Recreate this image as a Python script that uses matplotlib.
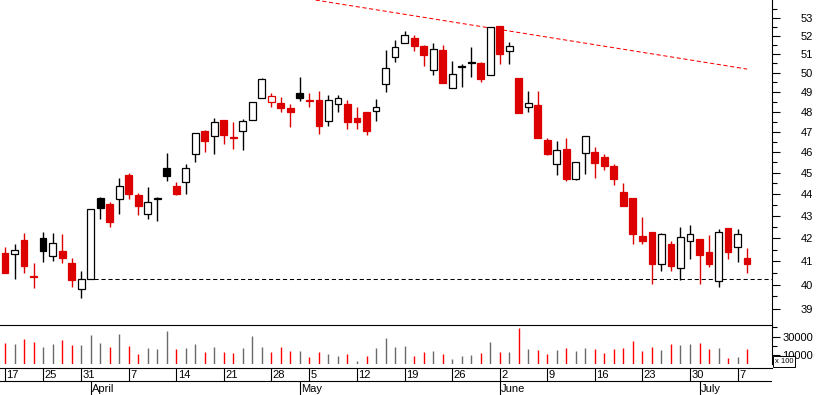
import numpy as np
import matplotlib.pyplot as plt
from matplotlib.patches import Rectangle
from matplotlib.ticker import FixedLocator, FixedFormatter, NullFormatter

plt.rcParams['font.family'] = ['Liberation Sans', 'DejaVu Sans']

# daily candles, index 0 = 17 March
opens = [41.37, 41.30, 41.93, 40.37, 42.01, 41.21, 41.44, 40.92, 39.80, 40.23,
         43.81, 43.55, 43.76, 44.90, 43.94, 43.07, 43.76, 45.22, 44.38, 44.55,
         45.89, 47.03, 46.76, 47.58, 46.73, 47.01, 47.58, 48.69, 48.47, 48.44,
         48.18, 48.95, 48.59, 48.59, 47.51, 48.37, 48.39, 47.68, 47.98, 48.02,
         49.39, 50.86, 51.58, 51.87, 51.43, 50.16, 51.22, 49.19, 50.29, 50.56,
         50.52, 49.87, 52.53, 51.15, 49.73, 48.22, 48.33, 46.58, 45.41, 46.14,
         44.69, 45.93, 46.00, 45.76, 45.32, 44.10, 43.82, 42.12, 42.28, 40.86,
         41.75, 40.69, 41.87, 41.97, 41.40, 40.15, 42.46, 41.61, 41.13]
highs = [41.63, 41.75, 42.22, 40.91, 42.28, 42.22, 42.19, 41.13, 40.58, 43.30,
         43.85, 43.64, 44.74, 45.00, 44.05, 44.33, 43.87, 45.95, 44.57, 45.42,
         46.91, 47.09, 47.66, 47.58, 47.48, 47.61, 48.47, 49.71, 48.95, 48.74,
         48.39, 49.78, 48.95, 49.05, 48.85, 48.85, 48.59, 48.23, 47.98, 48.64,
         51.21, 51.75, 52.25, 52.02, 51.49, 51.60, 51.49, 50.63, 50.45, 51.38,
         50.59, 52.46, 52.53, 51.64, 49.73, 49.05, 49.05, 46.67, 46.53, 46.68,
         45.50, 46.76, 46.24, 45.90, 45.42, 44.52, 43.82, 42.96, 42.28, 42.22,
         41.87, 42.50, 42.59, 41.97, 42.15, 42.42, 42.46, 42.42, 41.57]
lows = [40.51, 40.23, 40.51, 39.87, 40.97, 41.02, 40.93, 39.91, 39.45, 40.23,
        42.88, 42.52, 43.10, 43.79, 43.04, 42.88, 42.79, 44.63, 43.97, 44.02,
        45.53, 46.01, 45.91, 46.40, 46.16, 46.11, 47.58, 48.69, 48.25, 47.99,
        47.24, 48.56, 48.25, 46.89, 47.29, 47.99, 47.14, 47.14, 46.84, 47.54,
        49.02, 50.58, 51.58, 51.18, 50.38, 49.89, 49.48, 49.19, 49.28, 49.80,
        49.53, 49.87, 50.49, 50.49, 47.94, 47.99, 46.70, 45.87, 44.91, 44.63,
        44.65, 44.93, 44.77, 45.15, 44.44, 43.47, 41.76, 41.76, 40.04, 40.59,
        40.59, 40.18, 41.11, 40.04, 40.76, 39.91, 41.11, 40.97, 40.51]
closes = [40.51, 41.49, 40.80, 40.31, 41.46, 41.78, 41.15, 40.21, 40.23, 43.30,
          43.38, 42.74, 44.37, 44.02, 43.47, 43.62, 43.83, 44.86, 44.02, 45.22,
          46.91, 46.55, 47.46, 46.84, 46.70, 47.51, 48.47, 49.66, 48.78, 48.20,
          47.99, 48.71, 48.56, 47.29, 48.58, 48.68, 47.49, 47.49, 47.04, 48.22,
          50.23, 51.37, 52.02, 51.45, 50.96, 51.26, 49.48, 49.92, 50.38, 50.50,
          49.69, 52.46, 51.02, 51.42, 47.94, 48.42, 46.70, 45.91, 46.08, 44.72,
          45.50, 46.76, 45.45, 45.34, 44.72, 43.47, 42.21, 41.89, 40.89, 42.18,
          40.80, 42.04, 42.18, 41.28, 40.89, 42.27, 41.41, 42.18, 40.89]
# r = red filled, w = hollow black, k = black filled, o = hollow red
candle_styles = list("rwrrkwrrww" "krwrrwwkrw" "wrwrrwwwor" "rkrrwwrrrw"
                     "wwwrrwrwwk" "rwrwrwrrwr" "wwrrrrrrrw" "rwwrrwrwr")

volumes = [23300, 21900, 27300, 24000, 18900, 21900, 26200, 21100, 20800, 31700,
           23000, 18900, 32800, 20000, 11300, 17500, 16000, 36100, 16400, 17500,
           21900, 13100, 18600, 13100, 12000, 17500, 31000, 18600, 13100, 18900,
           14200, 14200, 7650, 13100, 10900, 9100, 10900, 3300, 8700, 17500,
           28400, 19000, 19700, 9100, 13100, 14200, 10900, 5500, 8700, 9800,
           12000, 24000, 13100, 13100, 39300, 16400, 15300, 10900, 15300, 17500,
           14200, 17500, 16400, 12000, 16400, 17500, 25100, 14200, 18600, 15300,
           21900, 20800, 21900, 23000, 16400, 17500, 6600, 7700, 16400]
# r = red bar, g = grey bar
volume_colors = list("rgrrggrrgg" "grgrrgggrg" "grgrrgggrr" "rgrrggrgrg"
                     "gggrrgrggg" "rgrgrgrrgr" "ggrrrrrrrg" "rggrrgrgr")

tick_idx = [0, 4, 8, 13, 18, 23, 28, 32, 37, 42, 47, 52, 57, 62, 67, 72, 77]
tick_lbl = ['17', '25', '31', '7', '14', '21', '28', '5', '12', '19', '26',
            '2', '9', '16', '23', '30', '7']
month_idx = [9, 31, 52, 73]
month_lbl = ['April', 'May', 'June', 'July']

price_ticks = list(range(39, 54))
half_ticks = [p + 0.5 for p in range(39, 54)]
support_level = 40.23
support_start = 9.4
trend_x = [28, 78]
trend_y = [54.39, 50.20]

RED = '#dd0000'
W, H = 817, 395
fig = plt.figure(figsize=(W / 100, H / 100), dpi=100)


def px_axes(x0, y0, x1, y1):
    return fig.add_axes([x0 / W, 1 - y1 / H, (x1 - x0) / W, (y1 - y0) / H])


ax = px_axes(0, 0, 772, 325)
axv = px_axes(0, 325, 772, 364)
axd = px_axes(0, 367.7, 772, 395)
xlim = (-0.525, 80.62)

# candles
for i in range(len(opens)):
    s = candle_styles[i]
    if s == 'r':
        fc, ec = RED, RED
    elif s == 'k':
        fc, ec = 'black', 'black'
    elif s == 'o':
        fc, ec = 'white', RED
    else:
        fc, ec = 'white', 'black'
    ax.vlines(i, lows[i], highs[i], color=ec, lw=1.0, zorder=2)
    lo = min(opens[i], closes[i])
    h = max(abs(closes[i] - opens[i]), 0.03)
    ax.add_patch(Rectangle((i - 0.36, lo), 0.72, h, facecolor=fc, edgecolor=ec,
                           lw=0.9, zorder=3))

ax.plot([support_start, xlim[1]], [support_level, support_level], color='black',
        lw=0.75, dashes=(4, 2.7), zorder=1)
ax.plot(trend_x, trend_y, color='#ff0000', lw=0.75, dashes=(4, 2.5), zorder=1)

ax.set_yscale('log')
ax.set_xlim(*xlim)
ax.set_ylim(38.33, 53.99)
ax.set_xticks([])
ax.yaxis.set_major_locator(FixedLocator(price_ticks))
ax.yaxis.set_major_formatter(FixedFormatter([str(p) for p in price_ticks]))
ax.yaxis.set_minor_locator(FixedLocator(half_ticks))
ax.yaxis.set_minor_formatter(NullFormatter())
for s in ['left', 'top']:
    ax.spines[s].set_visible(False)
ax.spines['right'].set_linewidth(0.8)
ax.spines['bottom'].set_linewidth(0.8)
ax.tick_params(axis='y', which='both', left=False, labelleft=False, right=True,
               labelright=True, direction='out', width=0.8)
ax.tick_params(axis='y', which='major', length=6, labelsize=8, pad=23.5)
ax.tick_params(axis='y', which='minor', length=3.5)
plt.setp(ax.get_yticklabels(), ha='right')

# volume
x = np.arange(len(volumes))
vcols = ['#ff0000' if v == 'r' else '#6a6a6a' for v in volume_colors]
axv.vlines(x, 0, volumes, colors=vcols, lw=1.0)
axv.set_xlim(*xlim)
axv.set_ylim(0, 42600)
axv.set_xticks([])
axv.yaxis.set_major_locator(FixedLocator([10000, 30000]))
axv.yaxis.set_major_formatter(FixedFormatter(['10000', '30000']))
axv.yaxis.set_minor_locator(FixedLocator([20000, 40000]))
for s in ['left', 'top', 'bottom']:
    axv.spines[s].set_visible(False)
axv.spines['right'].set_linewidth(0.8)
axv.tick_params(axis='y', which='both', left=False, labelleft=False, right=True,
                labelright=True, direction='out', width=0.8)
axv.tick_params(axis='y', which='major', length=6, labelsize=8, pad=23.5)
axv.tick_params(axis='y', which='minor', length=3.5)
plt.setp(axv.get_yticklabels(), ha='right')
axv.patch.set_alpha(0)
fig.text(784 / W, 1 - 361.5 / H, 'x 100', fontsize=5.5, ha='center', va='center',
         bbox=dict(boxstyle='square,pad=0.2', fc='white', ec='black', lw=0.7))

# date axis
axd.set_xlim(*xlim)
axd.set_ylim(0, 27.3)
axd.axis('off')
axd.axhline(27.3, color='black', lw=0.8, clip_on=False)
axd.axhline(14, color='black', lw=0.8)
axd.vlines(tick_idx, 14, 27.3, color='black', lw=0.8)
for i, t in zip(tick_idx, tick_lbl):
    axd.text(i + 0.15, 20.5, t, fontsize=8, ha='left', va='center')
axd.vlines(month_idx, 0, 14, color='black', lw=0.8)
for i, t in zip(month_idx, month_lbl):
    axd.text(i + 0.15, 6.5, t, fontsize=8, ha='left', va='center')

fig.savefig('out.png', dpi=100)
